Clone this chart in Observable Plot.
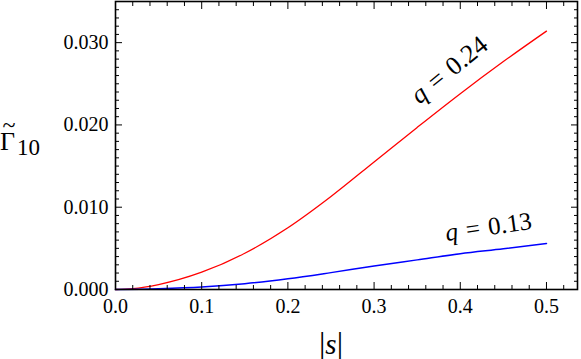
<!DOCTYPE html>
<html><head><meta charset="utf-8">
<script src="https://cdn.jsdelivr.net/npm/d3@7"></script>
<script src="https://cdn.jsdelivr.net/npm/@observablehq/plot@0.6"></script>
<style>body{margin:0;background:#fff;} svg{display:block} svg text, svg tspan{font-family:'Liberation Serif', serif !important;}</style>
</head><body><div id="chart"></div>
<script>
// series q = 0.24 (red)
const sRed = [0.0, 0.02, 0.05, 0.10, 0.15, 0.20, 0.25, 0.30, 0.35, 0.40, 0.45, 0.50];
const gRed = [0.0, 0.0001, 0.0006, 0.0021, 0.0044, 0.0075, 0.0113, 0.0155, 0.0197, 0.0238, 0.0277, 0.0314];
// series q = 0.13 (blue)
const sBlue = [0.0, 0.05, 0.10, 0.15, 0.20, 0.25, 0.30, 0.35, 0.40, 0.45, 0.50];
const gBlue = [0.0, 0.0001, 0.0003, 0.0007, 0.0013, 0.00205, 0.00285, 0.0036, 0.00435, 0.00495, 0.0056];
// ticks
const xTicks = [0, 0.1, 0.2, 0.3, 0.4, 0.5];
const xMinor = [0.02,0.04,0.06,0.08,0.12,0.14,0.16,0.18,0.22,0.24,0.26,0.28,0.32,0.34,0.36,0.38,0.42,0.44,0.46,0.48,0.52];
const yTicks = [0, 0.01, 0.02, 0.03];
const yMinor = [0.001,0.002,0.003,0.004,0.005,0.006,0.007,0.008,0.009,0.011,0.012,0.013,0.014,0.015,0.016,0.017,0.018,0.019,0.021,0.022,0.023,0.024,0.025,0.026,0.027,0.028,0.029,0.031,0.032,0.033,0.034];
// annotations
const annText = ["q = 0.24", "q = 0.13"];
const annS = [0.387, 0.4327];
const annG = [0.0267, 0.00760];

const red = sRed.map((s, i) => ({s, g: gRed[i]}));
const blue = sBlue.map((s, i) => ({s, g: gBlue[i]}));
const ann = annText.map((t, i) => ({t, s: annS[i], g: annG[i]}));

const MAJ = 7, MIN = 4;
const SERIF = "Liberation Serif";
const chart = Plot.plot({
  width: 581, height: 359,
  marginLeft: 115, marginRight: 4, marginTop: 1, marginBottom: 70,
  style: {fontFamily: SERIF, fontSize: "20px", color: "black", background: "white"},
  x: {domain: [0, 0.536]},
  y: {domain: [0, 0.035]},
  marks: [
    Plot.line(red, {x: "s", y: "g", stroke: "#ff0000", strokeWidth: 1.3, curve: "monotone-x"}),
    Plot.line(blue, {x: "s", y: "g", stroke: "#0000ff", strokeWidth: 1.5, curve: "monotone-x"}),
    Plot.text(ann.slice(0,1), {x: "s", y: "g", text: "t", rotate: -39, fontSize: 26, fill: "black"}),
    Plot.text(ann.slice(1,2), {x: "s", y: "g", text: "t", rotate: -8, fontSize: 25, fill: "black"}),
    // bottom
    Plot.axisX(xTicks, {anchor: "bottom", tickSize: MAJ, insetBottom: MAJ, text: null, label: null}),
    Plot.axisX(xMinor, {anchor: "bottom", tickSize: MIN, insetBottom: MIN, text: null, label: null}),
    Plot.axisX(xTicks, {anchor: "bottom", tickSize: 0, tickPadding: 9, tickFormat: d3.format(".1f"), label: null}),
    // top
    Plot.axisX(xTicks, {anchor: "top", tickSize: MAJ, insetTop: MAJ, text: null, label: null}),
    Plot.axisX(xMinor, {anchor: "top", tickSize: MIN, insetTop: MIN, text: null, label: null}),
    // left
    Plot.axisY(yTicks, {anchor: "left", tickSize: MAJ, insetLeft: MAJ, text: null, label: null}),
    Plot.axisY(yMinor, {anchor: "left", tickSize: MIN, insetLeft: MIN, text: null, label: null}),
    Plot.axisY(yTicks, {anchor: "left", tickSize: 0, tickPadding: 7, tickFormat: d3.format(".3f"), label: null}),
    // right
    Plot.axisY(yTicks, {anchor: "right", tickSize: MAJ, insetRight: MAJ, text: null, label: null}),
    Plot.axisY(yMinor, {anchor: "right", tickSize: MIN, insetRight: MIN, text: null, label: null}),
    Plot.frame({stroke: "black", strokeWidth: 1.6})
  ]
});
document.getElementById("chart").appendChild(chart);

const svg = d3.select(chart);
// italic q in annotations
svg.selectAll("text").filter(function() { return /^q = /.test(this.textContent); })
  .each(function() {
    const t = this.textContent.replace(/^q = /, "");
    const el = d3.select(this);
    el.text(null);
    el.append("tspan").attr("font-style", "italic").text("q");
    el.append("tspan").text("\u2004=\u2004" + t);
  });
// y label
const yl = svg.append("g").attr("fill", "black");
yl.append("text").attr("x", 9).attr("y", 133).attr("text-anchor", "middle").attr("font-size", 24).text("~");
const yt = yl.append("text").attr("x", 0).attr("y", 150).attr("text-anchor", "start").attr("font-size", 26);
yt.append("tspan").text("\u0393");
yt.append("tspan").attr("dy", 5).attr("dx", 2).attr("font-size", 23).text("10");
// x label
const xl = svg.append("text").attr("x", 331).attr("y", 354).attr("text-anchor", "middle").attr("fill", "black");
xl.append("tspan").attr("font-size", 32).text("|");
xl.append("tspan").attr("font-size", 29).attr("font-style", "italic").text("s");
xl.append("tspan").attr("font-size", 32).text("|");
// force serif face on every text
svg.selectAll("text, tspan").style("font-family", "'Liberation Serif', serif");
</script>
</body></html>
